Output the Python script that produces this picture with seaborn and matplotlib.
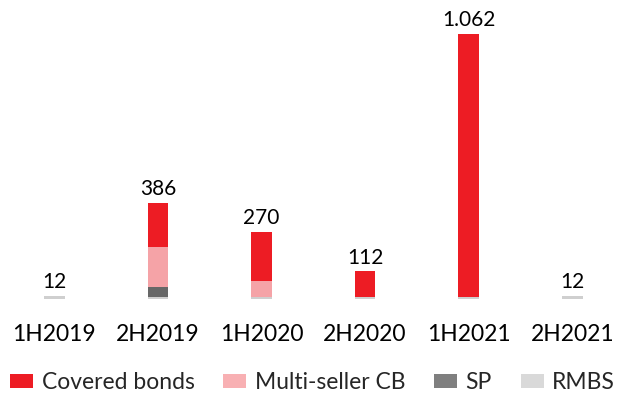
import numpy as np
import pandas as pd
import matplotlib
matplotlib.use("Agg")
import matplotlib.pyplot as plt
from matplotlib.patches import Patch
import seaborn as sns

periods = ["1H2019", "2H2019", "1H2020", "2H2020", "1H2021", "2H2021"]
rmbs = [12, 10, 10, 10, 10, 12]
sp = [0, 38, 0, 0, 0, 0]
multi_seller_cb = [0, 163, 62, 0, 0, 0]
covered_bonds = [0, 175, 198, 102, 1052, 0]

series_names = ["Covered bonds", "Multi-seller CB", "SP", "RMBS"]
colors = {"Covered bonds": "#ED1C24", "Multi-seller CB": "#F5A3A7",
          "SP": "#676767", "RMBS": "#CFCFCF"}
legend_colors = {"Covered bonds": "#ED1C24", "Multi-seller CB": "#F8B0B3",
                 "SP": "#7F7F7F", "RMBS": "#D9D9D9"}

sns.set_theme(style="white")
plt.rcParams["font.family"] = ["Lato", "DejaVu Sans"]

df = pd.DataFrame({"period": periods, "RMBS": rmbs, "SP": sp,
                   "Multi-seller CB": multi_seller_cb,
                   "Covered bonds": covered_bonds})

fig = plt.figure(figsize=(6.19, 3.93), dpi=100)
ax = fig.add_axes([0.0, 0.238, 1.0, 0.711])

# stack the series bottom-up: RMBS, SP, Multi-seller CB, Covered bonds
bottom = np.zeros(len(periods))
for name in ["RMBS", "SP", "Multi-seller CB", "Covered bonds"]:
    vals = df[name].to_numpy(dtype=float)
    sns.barplot(data=df, x="period", y=name, order=periods, ax=ax,
                color=colors[name], width=0.2, bottom=bottom,
                saturation=1, linewidth=0)
    bottom = bottom + vals

# totals above each bar, with a dot as thousands separator
totals = bottom
for i, t in enumerate(totals):
    label = f"{int(t):,}".replace(",", ".")
    ax.text(i, t + 16, label, ha="center", va="bottom", fontsize=15,
            color="#000000", clip_on=False)

ax.set_xlim(-0.524, 5.451)
ax.set_ylim(0, 1119)
ax.set_xlabel("")
ax.set_ylabel("")
ax.set_yticks([])
ax.tick_params(axis="x", length=0, labelsize=16.5, pad=18, colors="#000000")
for s in ax.spines.values():
    s.set_visible(False)

handles = [Patch(facecolor=legend_colors[n], edgecolor="none", label=n)
           for n in series_names]
fig.legend(handles=handles, loc="lower center", ncol=4, frameon=False,
           fontsize=16.5, bbox_to_anchor=(0.505, -0.035), handlelength=1.0,
           handleheight=0.6, handletextpad=0.38, columnspacing=1.25,
           borderaxespad=0.2)

fig.savefig("out.png", dpi=100, facecolor="white")
